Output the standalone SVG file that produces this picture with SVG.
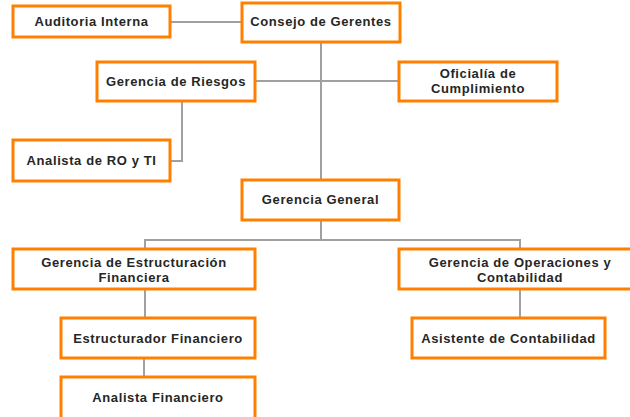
<svg xmlns="http://www.w3.org/2000/svg" width="630" height="417" viewBox="0 0 630 417">
<style>
.box{fill:#fff;stroke:#FF8000;stroke-width:3}
.t{font-family:"Liberation Sans",Arial,sans-serif;font-weight:bold;font-size:13px;letter-spacing:0.6px;fill:#262626;text-anchor:middle}
.c{fill:none;stroke:#A0A0A0;stroke-width:2}
</style>
<rect width="630" height="417" fill="#fff"/>
<g id="connectors">
<path class="c" d="M170 22 H242"/>
<path class="c" d="M321 42 V180"/>
<path class="c" d="M255 81 H399"/>
<path class="c" d="M182 101 V161 H170"/>
<path class="c" d="M321 220 V240 M145 249 V240 H520 V249"/>
<path class="c" d="M145 289 V318"/>
<path class="c" d="M144 358 V377"/>
<path class="c" d="M520 289 V318"/>
</g>
<g id="auditoria"><rect class="box" x="13" y="6" width="157" height="31"/><text class="t" x="91.5" y="26">Auditoria Interna</text></g>
<g id="consejo"><rect class="box" x="242" y="3" width="158" height="39"/><text class="t" x="321" y="26">Consejo de Gerentes</text></g>
<g id="riesgos"><rect class="box" x="97" y="62" width="158" height="39"/><text class="t" x="176" y="85.5">Gerencia de Riesgos</text></g>
<g id="oficialia"><rect class="box" x="399" y="62" width="158" height="39"/><text class="t" x="478" y="77.5">Oficialía de</text><text class="t" x="478" y="92.5">Cumplimiento</text></g>
<g id="analista-ro"><rect class="box" x="13" y="140" width="157" height="41"/><text class="t" x="91.5" y="164.5">Analista de RO y TI</text></g>
<g id="general"><rect class="box" x="242" y="180" width="157" height="40"/><text class="t" x="320.5" y="203.5">Gerencia General</text></g>
<g id="estructuracion"><rect class="box" x="13" y="249" width="242" height="40"/><text class="t" x="134" y="266.5">Gerencia de Estructuración</text><text class="t" x="134" y="281.5">Financiera</text></g>
<g id="operaciones"><rect class="box" x="399" y="249" width="250" height="40"/><text class="t" x="520" y="266.5">Gerencia de Operaciones y</text><text class="t" x="520" y="281.5">Contabilidad</text></g>
<g id="estructurador"><rect class="box" x="61" y="318" width="194" height="40"/><text class="t" x="158" y="342.5">Estructurador Financiero</text></g>
<g id="asistente"><rect class="box" x="412" y="318" width="193" height="40"/><text class="t" x="508.5" y="342.5">Asistente de Contabilidad</text></g>
<g id="analista-fin"><rect class="box" x="61" y="377" width="194" height="50"/><text class="t" x="158" y="401.5">Analista Financiero</text></g>
</svg>
